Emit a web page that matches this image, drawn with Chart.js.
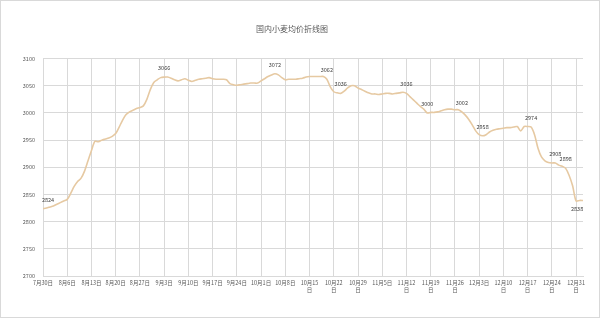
<!DOCTYPE html>
<html>
<head>
<meta charset="utf-8">
<script src="https://cdn.jsdelivr.net/npm/chart.js@4/dist/chart.umd.min.js"></script>
<style>
  body { margin: 0; background: #fff; }
  #caixa { width: 600px; height: 318px; box-sizing: border-box; border: 1px solid #d9d9d9; }
  canvas { display: block; }
</style>
</head>
<body>
<div id="caixa"><canvas id="graficoTrigo" width="598" height="316"></canvas></div>
<script>
const titulo = '国内小麦均价折线图'

// daily prices, 7/30 .. 1/2
const precos = [
  2824, 2825, 2827, 2829, 2832, 2835, 2838, 2841, 2852, 2865,
  2874, 2880, 2893, 2912, 2931, 2948, 2947, 2950, 2952, 2954,
  2957, 2962, 2974, 2987, 2997, 3002, 3005, 3008, 3010, 3013,
  3025, 3043, 3056, 3061, 3065, 3066, 3066, 3064, 3061, 3059,
  3061, 3063, 3060, 3058, 3060, 3062, 3063, 3064, 3065, 3063,
  3062, 3062, 3062, 3061, 3054, 3052, 3051, 3052, 3053, 3054,
  3055, 3055, 3055, 3059, 3063, 3067, 3070, 3072, 3070, 3065,
  3061, 3062, 3062, 3062, 3063, 3064, 3066, 3067, 3067, 3067,
  3067, 3067, 3062, 3048, 3039, 3037, 3036, 3040, 3046, 3050,
  3050, 3046, 3043, 3040, 3037, 3035, 3035, 3034, 3035, 3036,
  3036, 3035, 3036, 3037, 3038, 3036, 3030, 3024, 3018, 3012,
  3007, 3000, 3001, 3001, 3002, 3004, 3006, 3007, 3007, 3006,
  3006, 3002, 2996, 2988, 2978, 2967, 2960, 2958, 2960, 2965,
  2968, 2970, 2971, 2972, 2973, 2973, 2974, 2975, 2967, 2975,
  2975, 2974, 2960, 2935, 2919, 2912, 2909, 2908, 2908, 2904,
  2902, 2898, 2885, 2866, 2838, 2839, 2839
]

// weekly tick labels (every 7th day)
const rotulosSemana = [
  '7月30日', '8月6日', '8月13日', '8月20日', '8月27日', '9月3日', '9月10日',
  '9月17日', '9月24日', '10月1日', '10月8日', ['10月15', '日'], ['10月22', '日'],
  ['10月29', '日'], '11月5日', ['11月12', '日'], ['11月19', '日'], ['11月26', '日'],
  '12月3日', ['12月10', '日'], ['12月17', '日'], ['12月24', '日'], ['12月31', '日']
]

// points that carry a value label
const pontosRotulados = [0, 35, 67, 82, 86, 105, 111, 121, 127, 141, 148, 151]
const pontosRotuladosAbaixo = [154]

const yMin = 2700
const yMax = 3100
const yPasso = 50

function geraDatas () {
  let datas = []
  let data = new Date(2018, 6, 30)
  for (let i = 0; i < precos.length; i++) {
    datas.push((data.getMonth() + 1) + '月' + data.getDate() + '日')
    data.setDate(data.getDate() + 1)
  }
  return datas
}

const rotulosValores = {
  id: 'rotulosValores',
  afterDatasetsDraw (grafico) {
    const ctx = grafico.ctx
    const meta = grafico.getDatasetMeta(0)
    ctx.save()
    ctx.font = '5.5px "Noto Sans CJK SC", "Noto Sans", sans-serif'
    ctx.fillStyle = '#404040'
    ctx.textAlign = 'center'
    ctx.textBaseline = 'middle'
    pontosRotulados.forEach(i => {
      const p = meta.data[i]
      ctx.fillText(precos[i], p.x + (i === 0 ? 5 : 0), p.y - 9)
    })
    pontosRotuladosAbaixo.forEach(i => {
      const p = meta.data[i]
      ctx.fillText(precos[i], p.x + 1, p.y + 8)
    })
    ctx.restore()
  }
}

const fonteBase = '"Noto Sans CJK SC", "Noto Sans", sans-serif'

const graficoTrigo = new Chart(document.getElementById('graficoTrigo'), {
  type: 'line',
  data: {
    labels: geraDatas(),
    datasets: [{
      data: precos,
      borderColor: '#e6c9a2',
      borderWidth: 1.6,
      pointRadius: 0,
      tension: 0.3,
      fill: false
    }]
  },
  options: {
    responsive: false,
    animation: false,
    layout: { padding: { left: 0, right: 16, top: 0, bottom: 0 } },
    plugins: {
      legend: { display: false },
      tooltip: { enabled: false },
      title: {
        display: true,
        text: titulo,
        color: '#595959',
        font: { family: fonteBase, size: 8, weight: 'normal' },
        padding: { top: 23, bottom: 25 }
      }
    },
    scales: {
      x: {
        offset: false,
        grid: { color: '#d9d9d9', drawTicks: false },
        border: { color: '#d9d9d9' },
        ticks: {
          autoSkip: false,
          maxRotation: 0,
          minRotation: 0,
          padding: 4,
          color: '#595959',
          font: { family: fonteBase, size: 5.5, lineHeight: 1.2 },
          callback: (valor, indice) => indice % 7 === 0 ? rotulosSemana[indice / 7] : null
        },
        afterFit: (escala) => { escala.height = 41 }
      },
      y: {
        min: yMin,
        max: yMax,
        grid: { color: '#d9d9d9', drawTicks: false },
        border: { display: false },
        ticks: {
          stepSize: yPasso,
          padding: 8,
          color: '#595959',
          font: { family: fonteBase, size: 5.5 },
          callback: (valor) => String(valor)
        },
        afterFit: (escala) => { escala.width = 42 }
      }
    }
  },
  plugins: [rotulosValores]
})
</script>
</body>
</html>
